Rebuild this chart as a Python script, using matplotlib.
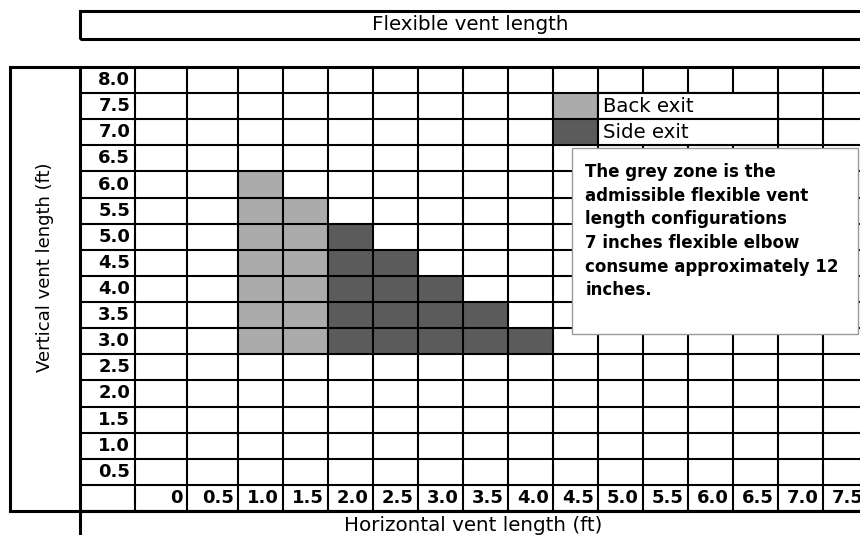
import numpy as np
import matplotlib
matplotlib.use('Agg')
from matplotlib import pyplot as plt
from matplotlib.patches import Rectangle

# admissible configurations: longest vertical run allowed for each horizontal run (ft)
back_horizontal = [1.0, 1.5]
back_vertical_max = [6.0, 5.5]
side_horizontal = [2.0, 2.5, 3.0, 3.5, 4.0]
side_vertical_max = [5.0, 4.5, 4.0, 3.5, 3.0]
vertical_min = 3.0

horizontal_values = [0, 0.5, 1.0, 1.5, 2.0, 2.5, 3.0, 3.5, 4.0, 4.5, 5.0, 5.5, 6.0, 6.5, 7.0, 7.5]
horizontal_labels = ['0', '0.5', '1.0', '1.5', '2.0', '2.5', '3.0', '3.5', '4.0', '4.5',
                     '5.0', '5.5', '6.0', '6.5', '7.0', '7.5']
vertical_values = [8.0, 7.5, 7.0, 6.5, 6.0, 5.5, 5.0, 4.5, 4.0, 3.5, 3.0, 2.5, 2.0, 1.5, 1.0, 0.5]
vertical_labels = ['8.0', '7.5', '7.0', '6.5', '6.0', '5.5', '5.0', '4.5', '4.0', '3.5',
                   '3.0', '2.5', '2.0', '1.5', '1.0', '0.5']

legend_labels = ['Back exit', 'Side exit']
note = ('The grey zone is the\nadmissible flexible vent\nlength configurations\n'
        '7 inches flexible elbow\nconsume approximately 12\ninches.')

BACK_COLOR = '#ababab'
SIDE_COLOR = '#5b5b5b'
INNER_LW = 1.5
OUTER_LW = 2.2

plt.rcParams['font.family'] = 'DejaVu Sans'

# column borders in ft and in pixels: label strip, row labels, then wider first two cells
col_edges_ft = np.array([-1.25, -0.75] + list(np.arange(-0.25, 7.76, 0.5)))
col_edges_px = np.array([10, 80, 135, 187] + list(238 + 45 * np.arange(15)), dtype=float)


def _fwd(x):
    return np.interp(x, col_edges_ft, col_edges_px)


def _inv(p):
    return np.interp(p, col_edges_px, col_edges_ft)


W, H = 860, 535
fig = plt.figure(figsize=(W / 100, H / 100), dpi=100)
fig.patch.set_facecolor('white')
ax = fig.add_axes([10 / W, (H - 511) / H, (868 - 10) / W, (511 - 67) / H])
ax.set_xscale('function', functions=(_fwd, _inv))
ax.set_xlim(-1.25, 7.75)
ax.set_ylim(-0.25, 8.25)
ax.tick_params(which='both', left=False, bottom=False, labelleft=False, labelbottom=False)
for s in ax.spines.values():
    s.set_linewidth(OUTER_LW)

# grey zones
ax.bar(back_horizontal, np.array(back_vertical_max) - vertical_min + 0.5, width=0.5,
       bottom=vertical_min - 0.25, color=BACK_COLOR, zorder=2)
ax.bar(side_horizontal, np.array(side_vertical_max) - vertical_min + 0.5, width=0.5,
       bottom=vertical_min - 0.25, color=SIDE_COLOR, zorder=2)

# the table grid
row_edges = np.arange(-0.25, 8.26, 0.5)
ax.hlines(row_edges, -0.75, 7.75, color='black', lw=INNER_LW, zorder=3)
ax.vlines(col_edges_ft[2:], -0.25, 8.25, color='black', lw=INNER_LW, zorder=3)
ax.vlines(-0.75, -0.25, 8.25, color='black', lw=OUTER_LW, zorder=3)

for v, lab in zip(vertical_values, vertical_labels):
    ax.annotate(lab, (-0.25, v), xytext=(-3.5, 0), textcoords='offset points',
                ha='right', va='center', fontsize=13, fontweight='bold')
for h, lab in zip(horizontal_values, horizontal_labels):
    ax.annotate(lab, (h + 0.25, 0.0), xytext=(-3, 0), textcoords='offset points',
                ha='right', va='center', fontsize=13, fontweight='bold')

# legend cells
for i, (lab, col) in enumerate(zip(legend_labels, [BACK_COLOR, SIDE_COLOR])):
    y = 7.5 - 0.5 * i
    ax.bar(4.5, 0.5, width=0.5, bottom=y - 0.25, color=col, zorder=2)
    ax.add_patch(Rectangle((4.75, y - 0.25), 2.0, 0.5, facecolor='white',
                           edgecolor='black', lw=INNER_LW, zorder=4))
    ax.annotate(lab, (4.75, y), xytext=(3.5, 0), textcoords='offset points',
                ha='left', va='center', fontsize=14.2, zorder=5)

# note box
ax.add_patch(Rectangle((4.46, 3.135), 3.18, 3.555, facecolor='white',
                       edgecolor='#9a9a9a', lw=1.0, zorder=6))
ax.text(4.61, 6.41, note, ha='left', va='top', fontsize=12, fontweight='bold',
        linespacing=1.40, zorder=7)

ax.text(-1.0, 4.42, 'Vertical vent length (ft)', rotation=90, ha='center', va='center',
        fontsize=13)

# header and footer strips
ax.add_patch(Rectangle((-0.75, 8.79), 9.5, 0.54, facecolor='none', edgecolor='black',
                       lw=OUTER_LW, clip_on=False))
ax.text(3.33, 9.06, 'Flexible vent length', ha='center', va='center', fontsize=14.3)
ax.add_patch(Rectangle((-0.75, -0.95), 9.5, 0.7, facecolor='none', edgecolor='black',
                       lw=OUTER_LW, clip_on=False))
ax.text(3.36, -0.52, 'Horizontal vent length (ft)', ha='center', va='center', fontsize=14.3)

fig.savefig('out.png', dpi=100, facecolor='white')
